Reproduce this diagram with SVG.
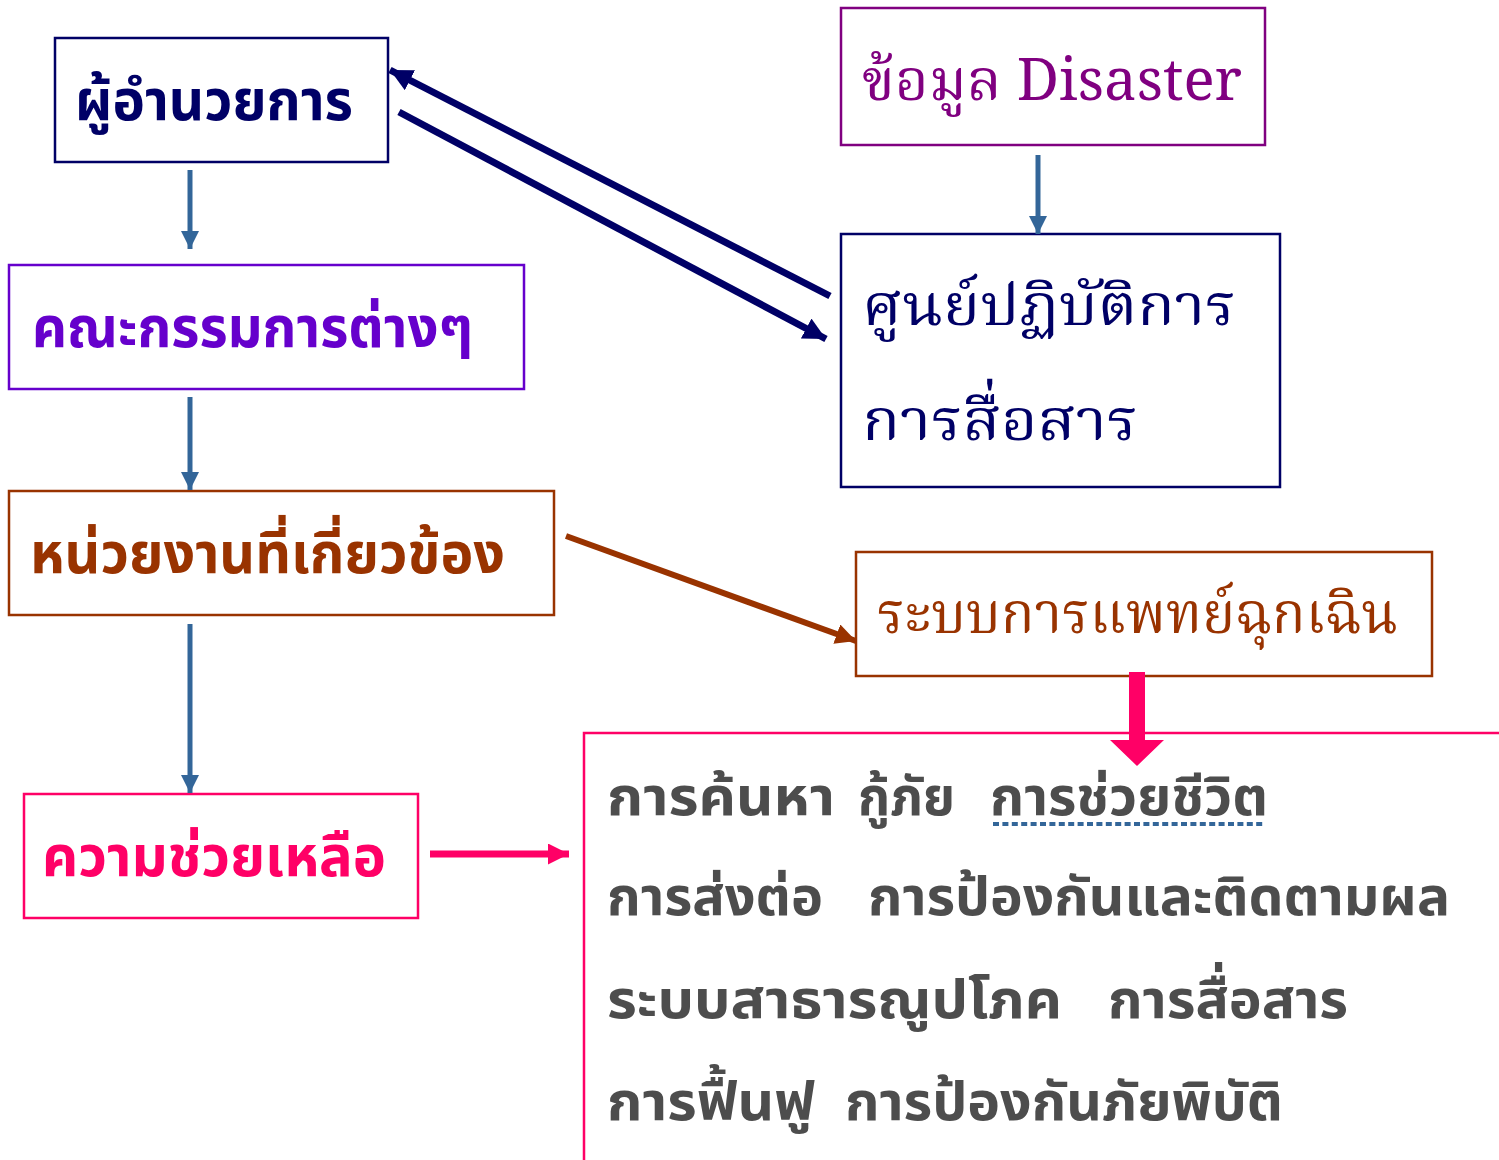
<svg xmlns="http://www.w3.org/2000/svg" width="1499" height="1160" viewBox="0 0 1499 1160">
<defs>
<style>
.box{fill:#fff;stroke-width:2.5}
.th{font-family:"Noto Sans Thai","Noto Serif Thai","Loma","Garuda","Norasi","Liberation Sans",sans-serif}
.b{font-weight:bold}
.serif{font-family:"Noto Serif Thai","Norasi","Kinnari","Liberation Serif","Noto Sans Thai",serif}
.blue{stroke:#336699;stroke-width:5;fill:none}
</style>
<marker id="ab" viewBox="0 0 10 10" refX="10" refY="5" markerWidth="3.6" markerHeight="3.6" markerUnits="strokeWidth" orient="auto"><path d="M0,0L10,5L0,10z" fill="#336699"/></marker>
<marker id="an" viewBox="0 0 10 10" refX="10" refY="5" markerWidth="3.2" markerHeight="3.2" markerUnits="strokeWidth" orient="auto"><path d="M0,0L10,5L0,10z" fill="#000066"/></marker>
<marker id="ar" viewBox="0 0 10 10" refX="10" refY="5" markerWidth="3.4" markerHeight="3.4" markerUnits="strokeWidth" orient="auto"><path d="M0,0L10,5L0,10z" fill="#993300"/></marker>
<marker id="ap" viewBox="0 0 10 10" refX="10" refY="5" markerWidth="3" markerHeight="3" markerUnits="strokeWidth" orient="auto"><path d="M0,0L10,5L0,10z" fill="#FF0066"/></marker>
</defs>
<rect width="1499" height="1160" fill="#fff"/>
<g id="n1"><rect class="box" x="55" y="38" width="333" height="124" stroke="#000066"/>
<text class="th b" x="75" y="120" font-size="56" fill="#000066" textLength="278" lengthAdjust="spacingAndGlyphs">ผู้อำนวยการ</text></g>
<g id="n2"><rect class="box" x="9" y="265" width="515" height="124" stroke="#6600CC"/>
<text class="th b" x="32" y="347" font-size="56" fill="#6600CC" textLength="441" lengthAdjust="spacingAndGlyphs">คณะกรรมการต่างๆ</text></g>
<g id="n3"><rect class="box" x="9" y="491" width="545" height="124" stroke="#993300"/>
<text class="th b" x="30" y="573" font-size="56" fill="#993300" textLength="475" lengthAdjust="spacingAndGlyphs">หน่วยงานที่เกี่ยวข้อง</text></g>
<g id="n4"><rect class="box" x="24" y="794" width="394" height="124" stroke="#FF0066"/>
<text class="th b" x="42" y="876" font-size="56" fill="#FF0066" textLength="344" lengthAdjust="spacingAndGlyphs">ความช่วยเหลือ</text></g>
<g id="n5"><rect class="box" x="841" y="8" width="424" height="137" stroke="#800080"/>
<text class="serif" x="862" y="100" font-size="58" fill="#800080" textLength="380" lengthAdjust="spacingAndGlyphs">ข้อมูล Disaster</text></g>
<g id="n6"><rect class="box" x="841" y="234" width="439" height="253" stroke="#000066"/>
<text class="serif" x="862" y="325" font-size="58" fill="#000066" textLength="374" lengthAdjust="spacingAndGlyphs">ศูนย์ปฏิบัติการ</text>
<text class="serif" x="862" y="440" font-size="58" fill="#000066" textLength="276" lengthAdjust="spacingAndGlyphs">การสื่อสาร</text></g>
<g id="n7"><rect class="box" x="856" y="552" width="576" height="124" stroke="#993300"/>
<text class="serif" x="877" y="633" font-size="58" fill="#993300" textLength="521" lengthAdjust="spacingAndGlyphs">ระบบการแพทย์ฉุกเฉิน</text></g>
<g id="n8"><rect class="box" x="584" y="733" width="930" height="440" stroke="#FF0066"/>
<g class="th b" font-size="54" fill="#4D4D4D">
<text y="815"><tspan x="607" textLength="228" lengthAdjust="spacingAndGlyphs">การค้นหา</tspan> <tspan x="858" textLength="97" lengthAdjust="spacingAndGlyphs">กู้ภัย</tspan> <tspan x="990" textLength="278" lengthAdjust="spacingAndGlyphs">การช่วยชีวิต</tspan></text>
<text y="915"><tspan x="607" textLength="216" lengthAdjust="spacingAndGlyphs">การส่งต่อ</tspan> <tspan x="868" textLength="582" lengthAdjust="spacingAndGlyphs">การป้องกันและติดตามผล</tspan></text>
<text y="1018"><tspan x="607" textLength="455" lengthAdjust="spacingAndGlyphs">ระบบสาธารณูปโภค</tspan> <tspan x="1108" textLength="240" lengthAdjust="spacingAndGlyphs">การสื่อสาร</tspan></text>
<text y="1120"><tspan x="607" textLength="208" lengthAdjust="spacingAndGlyphs">การฟื้นฟู</tspan> <tspan x="845" textLength="438" lengthAdjust="spacingAndGlyphs">การป้องกันภัยพิบัติ</tspan></text>
</g>
<line x1="993" y1="824" x2="1265" y2="824" stroke="#336699" stroke-width="4" stroke-dasharray="6,3.4"/>
</g>
<g id="connectors">
<line class="blue" x1="190" y1="170" x2="190" y2="249" marker-end="url(#ab)"/>
<line class="blue" x1="190" y1="397" x2="190" y2="490" marker-end="url(#ab)"/>
<line class="blue" x1="190" y1="624" x2="190" y2="793" marker-end="url(#ab)"/>
<line class="blue" x1="1038" y1="155" x2="1038" y2="234" marker-end="url(#ab)"/>
<line x1="830" y1="296" x2="390" y2="70" stroke="#000066" stroke-width="7" marker-end="url(#an)"/>
<line x1="399" y1="112" x2="826" y2="339" stroke="#000066" stroke-width="7" marker-end="url(#an)"/>
<line x1="566" y1="536" x2="856" y2="641" stroke="#993300" stroke-width="6" marker-end="url(#ar)"/>
<line x1="430" y1="854" x2="569" y2="854" stroke="#FF0066" stroke-width="7" marker-end="url(#ap)"/>
<path d="M1129,672H1145V740H1164L1137,766L1110,740H1129Z" fill="#FF0066"/>
</g>
</svg>
